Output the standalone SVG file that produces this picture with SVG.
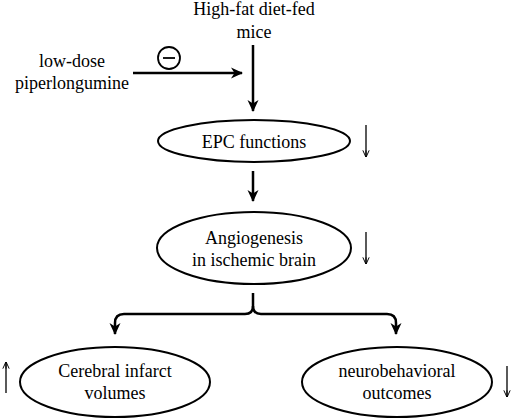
<svg xmlns="http://www.w3.org/2000/svg" width="512" height="420" viewBox="0 0 512 420">
<style>
text{font-family:'Liberation Serif','DejaVu Serif',serif;font-size:18px;fill:#000;text-anchor:middle}
.node{fill:#fff;stroke:#000;stroke-width:2}
.main{fill:none;stroke:#000;stroke-width:2.5}
.thin{fill:none;stroke:#000;stroke-width:1.3}
</style>
<defs>
<marker id="ah" viewBox="0 0 12 12" refX="11" refY="6" markerWidth="12" markerHeight="12" markerUnits="userSpaceOnUse" orient="auto">
<path d="M0,0.5 L12,6 L0,11.5 L3.5,6 Z" fill="#000"/>
</marker>
<marker id="sh" viewBox="0 0 10 10" refX="9.5" refY="5" markerWidth="7" markerHeight="9" markerUnits="userSpaceOnUse" orient="auto">
<path d="M0,0.5 L10,5 L0,9.5 M10,5 L0,5" fill="none" stroke="#000" stroke-width="1.4"/>
</marker>
</defs>
<rect width="512" height="420" fill="#fff"/>
<g id="connectors">
<line class="main" x1="253" y1="45" x2="253" y2="111" marker-end="url(#ah)"/>
<line class="main" x1="133" y1="73" x2="242" y2="73" marker-end="url(#ah)"/>
<line class="main" x1="253" y1="171" x2="253" y2="201" marker-end="url(#ah)"/>
<path class="main" d="M253,293 V306 Q253,314 245,314 H124 Q115,314 115,323 V334" marker-end="url(#ah)"/>
<path class="main" d="M253,306 Q253,314 261,314 H387 Q396,314 396,323 V334" marker-end="url(#ah)"/>
</g>
<g id="inhibit">
<circle cx="169" cy="58" r="11" fill="none" stroke="#000" stroke-width="1.8"/>
<line x1="163" y1="58" x2="175" y2="58" stroke="#000" stroke-width="1.8"/>
</g>
<g id="mice" font-family="Liberation Serif, serif">
<text x="254" y="15">High-fat diet-fed</text>
<text x="254" y="38">mice</text>
</g>
<g id="piperlongumine" font-family="Liberation Serif, serif">
<text x="72" y="67">low-dose</text>
<text x="72" y="89">piperlongumine</text>
</g>
<g id="epc" font-family="Liberation Serif, serif">
<ellipse class="node" cx="254" cy="141" rx="96" ry="21"/>
<text x="254" y="148">EPC functions</text>
<line class="thin" x1="366" y1="125" x2="366" y2="157" marker-end="url(#sh)"/>
</g>
<g id="angio" font-family="Liberation Serif, serif">
<ellipse class="node" cx="254" cy="248" rx="97" ry="36"/>
<text x="254" y="244">Angiogenesis</text>
<text x="254" y="266">in ischemic brain</text>
<line class="thin" x1="366" y1="232" x2="366" y2="264" marker-end="url(#sh)"/>
</g>
<g id="infarct" font-family="Liberation Serif, serif">
<ellipse class="node" cx="115" cy="382" rx="95" ry="35"/>
<text x="115" y="377">Cerebral infarct</text>
<text x="115" y="399">volumes</text>
<line class="thin" x1="6" y1="393" x2="6" y2="362" marker-end="url(#sh)"/>
</g>
<g id="neuro" font-family="Liberation Serif, serif">
<ellipse class="node" cx="397" cy="382" rx="95" ry="35"/>
<text x="397" y="377">neurobehavioral</text>
<text x="397" y="399">outcomes</text>
<line class="thin" x1="507" y1="366" x2="507" y2="397" marker-end="url(#sh)"/>
</g>
</svg>
